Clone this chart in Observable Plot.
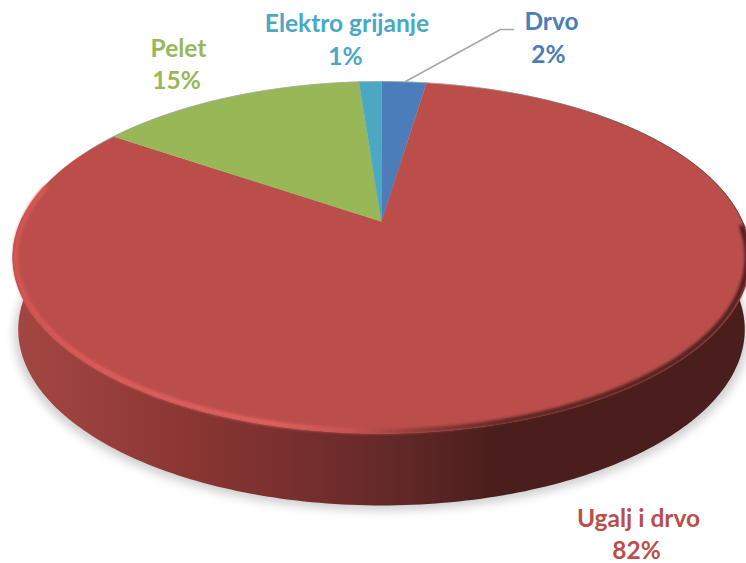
<!DOCTYPE html>
<html><head><meta charset="utf-8">
<script src="https://cdn.jsdelivr.net/npm/d3@7"></script>
<script src="https://cdn.jsdelivr.net/npm/@observablehq/plot@0.6"></script>
<style>html,body{margin:0;padding:0;background:#fff}svg{display:block}</style>
</head><body><div id="chart"></div>
<script>
// Data (in drawing order, clockwise from the top)
const categories = ["Drvo", "Ugalj i drvo", "Pelet", "Elektro grijanje"];
const shares = [2.4, 82.1, 14.3, 1.2];      // slice sizes
const percentLabels = ["2%", "82%", "15%", "1%"];
const colors = ["#4a7db9", "#bb4e4b", "#98b857", "#4aa8c3"];

// Layout
const W = 746, H = 563;
const labelX = [[551, 548], [638, 636], [178, 176], [346.5, 345]];
const labelY = [[22, 55], [519, 551], [49, 81], [24, 57]];
const leader = [[405, 81], [500, 29], [513, 29]];

// Perspective view of the round pie
const CX = 381, CY = 221, RX = 361, RY = 168.6, K = 0.2045, DEPTH = 72;
const rad = d => d * Math.PI / 180;
const project = (deg, s = 1, dy = 0, sx = 1) => {
  const X = Math.sin(rad(deg)) * s, Y = Math.cos(rad(deg)) * s, w = 1 + K * Y;
  return {x: CX + sx * RX * X / w, y: CY + dy - RY * Y / w};
};
const arc = (a, b, s, dy, sx) => {
  const n = Math.max(2, Math.ceil(Math.abs(b - a)));
  return d3.range(n + 1).map(i => project(a + (b - a) * i / n, s, dy, sx));
};

let acc = 0;
const slices = categories.map((name, i) => {
  const a = acc * 3.6; acc += shares[i]; const b = acc * 3.6;
  return {name, color: colors[i], points: [{x: CX, y: CY}, ...arc(a, b, 1, 0, 1)]};
});
const wall = [...arc(90, 272, 1, 0, 1), ...arc(272, 90, 1, DEPTH, 0.985)];
const shadow = arc(0, 360, 1, DEPTH + 5, 0.995);
const rimFront = arc(282, 92, 0.992, 0, 1);
const rimBack = arc(-62, 92, 1, 0, 1);

const wallStops = [[0, "#a54743"], [0.1, "#9c423e"], [0.25, "#8a3633"], [0.4, "#772f2e"], [0.55, "#5f2726"], [0.66, "#4a1e1c"], [1, "#4a1e1c"]];
const rimStops = [[0, "#cf5552"], [0.1, "#dc5b59"], [0.36, "#e0625f"], [0.47, "#c65450"], [0.56, "#8f3a38"], [0.68, "#5a2522"], [1, "#4a1e1c"]];
const backStops = [[0, "#999"], [0.6, "#aaa"], [0.8, "#6a4a48"], [1, "#3d1c1a"]];
const grad = (id, stops) => `<linearGradient id="${id}" gradientUnits="userSpaceOnUse" x1="0" y1="0" x2="${W}" y2="0">` +
  stops.map(([o, c]) => `<stop offset="${o}" stop-color="${c}"/>`).join("") + `</linearGradient>`;
const defs = () => {
  const d = d3.create("svg:defs");
  d.html(grad("wallG", wallStops) + grad("rimG", rimStops) + grad("backG", backStops));
  return d.node();
};

const labelRows = categories.flatMap((name, i) => [
  {text: name, x: labelX[i][0], y: labelY[i][0], color: colors[i]},
  {text: percentLabels[i], x: labelX[i][1], y: labelY[i][1], color: colors[i]}
]);

const chart = Plot.plot({
  width: W, height: H, margin: 0,
  x: {domain: [0, W], range: [0, W], axis: null},
  y: {domain: [0, H], range: [0, H], axis: null},
  style: {background: "#fff", fontFamily: "Lato, sans-serif"},
  marks: [
    defs,
    Plot.line(shadow, {x: "x", y: "y", fill: "#8c8c8c", fillOpacity: 0.42, stroke: "none", imageFilter: "blur(5px)"}),
    Plot.line(wall, {x: "x", y: "y", fill: "url(#wallG)", stroke: "none"}),
    ...slices.map(s => Plot.line(s.points, {x: "x", y: "y", fill: s.color, stroke: s.color, strokeWidth: 0.4})),
    Plot.line(rimBack, {x: "x", y: "y", stroke: "url(#backG)", strokeWidth: 1, strokeOpacity: 0.7}),
    Plot.line(rimFront, {x: "x", y: "y", stroke: "url(#rimG)", strokeWidth: 5, imageFilter: "blur(1.8px)"}),
    Plot.line(leader, {x: d => d[0], y: d => d[1], stroke: "#a6a6a6", strokeWidth: 1.5}),
    Plot.text(labelRows, {x: "x", y: "y", text: "text", fill: "color", fontSize: 24.5, fontWeight: 700, textAnchor: "middle", lineAnchor: "middle"})
  ]
});
document.getElementById("chart").append(chart);
</script></body></html>
